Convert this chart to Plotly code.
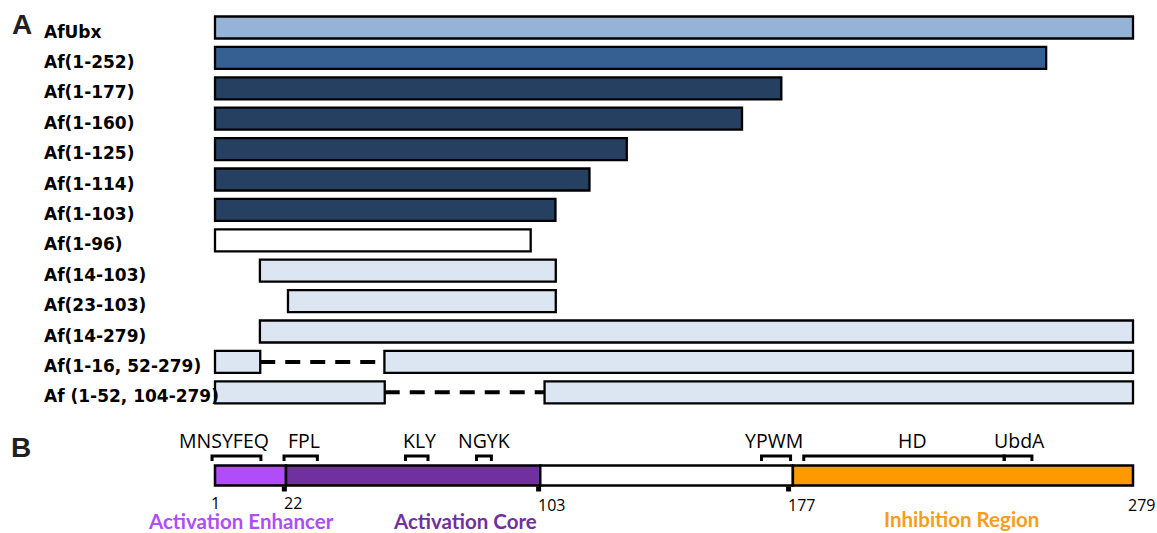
import plotly.graph_objects as go

# ---------------- Panel A data (residue positions) ----------------
row_labels = ["AfUbx", "Af(1-252)", "Af(1-177)", "Af(1-160)", "Af(1-125)", "Af(1-114)",
              "Af(1-103)", "Af(1-96)", "Af(14-103)", "Af(23-103)", "Af(14-279)",
              "Af(1-16, 52-279)", "Af (1-52, 104-279)"]
seg_row = [0, 1, 2, 3, 4, 5, 6, 7, 8, 9, 10, 11, 11, 12, 12]
seg_start = [1, 1, 1, 1, 1, 1, 1, 1, 14.6, 23.1, 14.6, 1, 52.3, 1, 100.8]
seg_end = [279, 252.7, 172.5, 160.6, 125.7, 114.4, 104.1, 96.6, 104.2, 104.2, 279, 14.7, 279, 52.4, 279]
gap_row = [11, 12]
gap_start = [14.7, 52.4]
gap_end = [52.3, 100.8]

# ---------------- Panel B data ----------------
domain_start = [1, 22.5, 99.5, 176]
domain_end = [22.5, 99.5, 176, 279]
boundary_pos = [22.0, 99.0, 174.7]
tick_text = ["1", "22", "103", "177", "279"]
tick_pos = [1, 24.5, 103, 178.5, 281.5]
motif_names = ["MNSYFEQ", "FPL", "KLY", "NGYK", "YPWM", "HD", "UbdA"]
motif_start = [0.1, 21.9, 58.7, 80.2, 166.5, 179.3, 240.0]
motif_end = [14.9, 32.0, 65.5, 84.7, 175.3, 240.0, 248.4]
motif_label_x = [3.6, 28.1, 62.9, 82.5, 170.4, 212.2, 244.7]
region_names = ["Activation Enhancer", "Activation Core", "Inhibition Region"]
region_label_x = [9.0, 76.6, 227.2]

# ---------------- styles ----------------
row_colors = ["#95B3D7", "#376092", "#254061", "#254061", "#254061", "#254061",
              "#254061", "#FFFFFF", "#DCE6F2", "#DCE6F2", "#DCE6F2", "#DCE6F2", "#DCE6F2"]
domain_colors = ["#B04CF8", "#7030A0", "#FFFFFF", "#FF9900"]
region_colors = ["#B04CF8", "#7030A0", "#F89C1C"]

W, H = 1157, 533
PX1, PX279 = 215.0, 1133.0
ppr = (PX279 - PX1) / (279 - 1)
x_range = [1 - PX1 / ppr, 1 + (W - PX1) / ppr]
ROW0, STEP = 27.5, 30.4
def ry(px):
    return (px - ROW0) / STEP
y_range = [ry(H), ry(0)]

B_ROW = ry(475.5)

fig = go.Figure()

# Panel A bars
fig.add_trace(go.Bar(
    orientation="h",
    y=seg_row,
    base=seg_start,
    x=[e - s for s, e in zip(seg_start, seg_end)],
    width=22.0 / STEP,
    marker=dict(color=[row_colors[r] for r in seg_row], line=dict(color="black", width=2.3)),
    hoverinfo="skip", showlegend=False,
))

# Deleted regions: dashed connectors
for r, s, e in zip(gap_row, gap_start, gap_end):
    fig.add_trace(go.Scatter(
        x=[s, e], y=[r, r], mode="lines",
        line=dict(color="black", width=4, dash="15px,10px"),
        hoverinfo="skip", showlegend=False,
    ))

# Panel B domain bar
fig.add_trace(go.Bar(
    orientation="h",
    y=[B_ROW] * len(domain_start),
    base=domain_start,
    x=[e - s for s, e in zip(domain_start, domain_end)],
    width=20.0 / STEP,
    marker=dict(color=domain_colors, line=dict(color="black", width=2.5)),
    hoverinfo="skip", showlegend=False,
))

# boundary tick squares
fig.add_trace(go.Scatter(
    x=boundary_pos, y=[ry(489)] * len(boundary_pos), mode="markers",
    marker=dict(symbol="square", size=5, color="black"),
    hoverinfo="skip", showlegend=False,
))

# motif brackets
y_top, y_leg = ry(456), ry(461)
for s, e in zip(motif_start, motif_end):
    fig.add_trace(go.Scatter(
        x=[s, s, e, e], y=[y_leg, y_top, y_top, y_leg], mode="lines",
        line=dict(color="black", width=3),
        hoverinfo="skip", showlegend=False,
    ))

ann = []
# row labels
for i, lab in enumerate(row_labels):
    ann.append(dict(x=42 / W, xref="paper", y=i, yref="y", text="<b>" + lab + "</b>",
                    xanchor="left", yanchor="middle", showarrow=False, yshift=-4,
                    font=dict(family="DejaVu Sans", size=17, color="black")))
# panel letters
ann.append(dict(x=21.5 / W, xref="paper", y=1 - 25 / H, yref="paper", text="<b>A</b>",
                xanchor="center", yanchor="middle", showarrow=False,
                font=dict(family="Liberation Sans", size=28, color="#231F20")))
ann.append(dict(x=21 / W, xref="paper", y=1 - 447.5 / H, yref="paper", text="<b>B</b>",
                xanchor="center", yanchor="middle", showarrow=False,
                font=dict(family="Liberation Sans", size=28, color="#231F20")))
# motif labels
for name, x in zip(motif_names, motif_label_x):
    ann.append(dict(x=x, xref="x", y=ry(440), yref="y", text=name,
                    xanchor="center", yanchor="middle", showarrow=False,
                    font=dict(family="Open Sans", size=19.5, color="black")))
# tick labels
tick_y = [502.5, 502.5, 505, 505, 505]
for t, x, yy in zip(tick_text, tick_pos, tick_y):
    ann.append(dict(x=x, xref="x", y=ry(yy), yref="y", text=t,
                    xanchor="center", yanchor="middle", showarrow=False,
                    font=dict(family="Open Sans", size=16, color="black")))
# region labels
region_y = [520.5, 520.5, 518.5]
for name, x, c, yy in zip(region_names, region_label_x, region_colors, region_y):
    ann.append(dict(x=x, xref="x", y=ry(yy), yref="y", text="<b>" + name + "</b>",
                    xanchor="center", yanchor="middle", showarrow=False,
                    font=dict(family="Lato", size=20.5, color=c)))

fig.update_layout(
    width=W, height=H, autosize=False,
    margin=dict(l=0, r=0, t=0, b=0),
    paper_bgcolor="white", plot_bgcolor="white",
    barmode="overlay",
    xaxis=dict(range=x_range, visible=False, fixedrange=True),
    yaxis=dict(range=y_range, visible=False, fixedrange=True),
    annotations=ann,
    showlegend=False,
)

fig.write_html("out.html", config={"displayModeBar": False})
